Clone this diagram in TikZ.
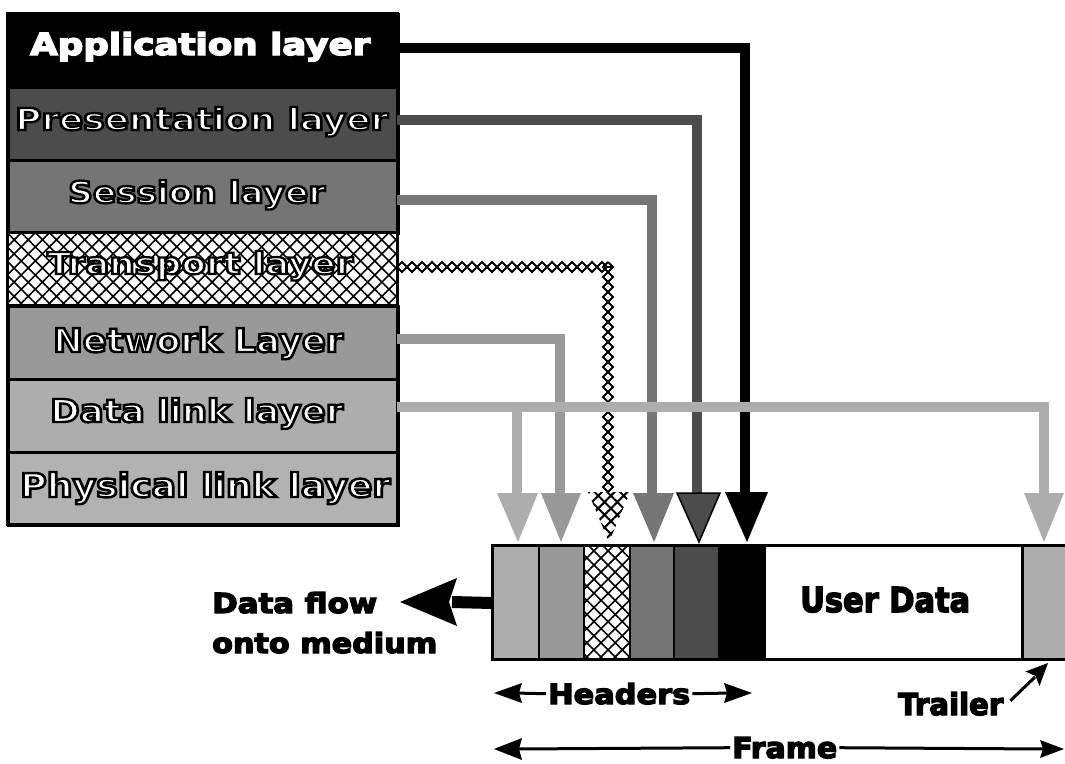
\documentclass[tikz,border=0pt]{standalone}
\usepackage{fontspec}
\setmainfont{DejaVu Sans}
\usetikzlibrary{patterns.meta,decorations.pathmorphing,calc}
\newcommand\oltxt[1]{\textcolor{white}{\special{pdf:literal direct 0 G 2 Tr 1.5 w}#1\special{pdf:literal direct 0 Tr}}}
\newcommand\hvtxt[1]{\special{pdf:literal direct 2 Tr 0.9 w}#1\special{pdf:literal direct 0 Tr}}
\newcommand\fitt[3]{\resizebox{#1pt}{#2pt}{\fontsize{20}{24}\selectfont\bfseries #3}}
\colorlet{cpres}{black!70}
\colorlet{csess}{black!54}
\colorlet{cnet}{black!40}
\colorlet{cdl}{black!32}
\colorlet{cphys}{black!30}
\tikzset{
  row/.style={draw=black,line width=3pt,minimum width=390pt,minimum height=73pt,inner sep=0pt,anchor=north west},
  lab/.style={inner sep=0pt,anchor=base west},
  hatchfill/.style={preaction={fill=white},pattern={Hatch[angle=45,distance=10pt,line width=1.6pt]},pattern color=black},
  conn/.style={line width=10pt,line cap=butt,line join=miter},
  zz/.style={decorate,decoration={zigzag,segment length=20pt,amplitude=5pt},line width=1.8pt,draw=black},
  zzm/.style={decorate,decoration={zigzag,segment length=20pt,amplitude=-5pt},line width=1.8pt,draw=black},
  cell/.style={draw=black,line width=2pt,minimum height=114pt,inner sep=0pt,anchor=north west},
  dimline/.style={line width=3pt}
}
\begin{document}
\begin{tikzpicture}[x=1pt,y=-1pt]
\useasboundingbox (0,0) rectangle (1065,763);
\fill[white] (0,0) rectangle (1065,763);
% layer stack
\node[row,fill=black] (app) at (7,13) {};
\node[row,fill=cpres] (pres) at (7,86) {};
\node[row,fill=csess] (sess) at (7,159) {};
\node[row,hatchfill] (trans) at (7,232) {};
\node[row,fill=cnet] (net) at (7,305) {};
\node[row,fill=cdl] (dl) at (7,378) {};
\node[row,fill=cphys] (phys) at (7,451) {};
\draw[line width=3pt] (7,13) rectangle (397,524);
% layer labels
\node[lab] (tapp) at (30,55) {\fitt{340}{23}{\textcolor{white}{\hvtxt{Application layer}}}};
\node[lab] (tpres) at (15,130) {\fitt{373}{23}{\oltxt{Presentation layer}}};
\node[lab] (tsess) at (68,203) {\fitt{257}{23}{\oltxt{Session layer}}};
\node[lab] (ttrans) at (47,274) {\fitt{306}{23}{\oltxt{Transport layer}}};
\node[lab] (tnet) at (53,352) {\fitt{290}{25}{\oltxt{Network Layer}}};
\node[lab] (tdl) at (50,422) {\fitt{293}{24}{\oltxt{Data link layer}}};
\node[lab] (tphys) at (20,497) {\fitt{370}{25}{\oltxt{Physical link layer}}};
% connector coordinates
\coordinate (a0) at (397,48);  \coordinate (a1) at (745,495);
\coordinate (p0) at (397,120); \coordinate (p1) at (697,495);
\coordinate (s0) at (397,200); \coordinate (s1) at (652,495);
\coordinate (t0) at (397,267); \coordinate (tc) at (613,267); \coordinate (tv) at (608,262); \coordinate (t1) at (608,493);
\coordinate (n0) at (397,339); \coordinate (n1) at (560,495);
\coordinate (d0) at (397,407); \coordinate (db) at (517,407); \coordinate (d1) at (517,495); \coordinate (d2) at (1044,495);
% connectors
\draw[conn,draw=black] (a0) -| (a1);
\draw[conn,draw=cpres] (p0) -| (p1);
\draw[conn,draw=csess] (s0) -| (s1);
\draw[zz] (t0) -- (tc); \draw[zzm] (t0) -- (tc);
\draw[zz] (tv) -- (t1); \draw[zzm] (tv) -- (t1);
\draw[conn,draw=cnet] (n0) -| (n1);
\draw[conn,draw=cdl] (d0) -| (d2);
\draw[conn,draw=cdl] (db) -- (d1);
% arrowheads
\fill[cdl] (497,493) -- (538,493) -- (518,542) -- cycle;
\fill[cnet] (541,493) -- (581,493) -- (561,542) -- cycle;
\path[hatchfill,pattern={Hatch[angle=45,distance=9pt,line width=2pt]}] (588,492) -- (630,492) -- (609,542) -- cycle;
\fill[csess] (633,493) -- (674,493) -- (654,542) -- cycle;
\fill[cpres] (677,493) -- (720,493) -- (699,542) -- cycle;
\draw[black,line width=1.5pt] (677,493) -- (720,493) -- (699,542) -- cycle;
\fill[black] (725,492) -- (768,492) -- (747,542) -- cycle;
\fill[cdl] (1024,493) -- (1064,493) -- (1044,542) -- cycle;
% frame
\node[cell,fill=cdl,minimum width=46pt] (c1) at (492,545) {};
\node[cell,fill=cnet,minimum width=45pt] (c2) at (538,545) {};
\node[cell,hatchfill,minimum width=46pt] (c3) at (583,545) {};
\node[cell,fill=csess,minimum width=44pt] (c4) at (629,545) {};
\node[cell,fill=cpres,minimum width=45pt] (c5) at (673,545) {};
\node[cell,fill=black,minimum width=46pt] (c6) at (718,545) {};
\node[cell,fill=white,minimum width=258pt] (ud) at (764,545) {};
\node[cell,fill=cdl,minimum width=50pt] (tr) at (1022,545) {};
\draw[line width=3pt] (492,545) rectangle (1075,659);
\draw[line width=3pt] (1022,545) -- (1022,659);
\node[lab] (tud) at (800,612) {\fitt{170}{25}{\hvtxt{User Data}}};
% data flow
\coordinate (df) at (452,602);
\draw[line width=12pt] (c1.west) -- (df);
\fill[black] (400,602) -- (457,578) -- (449,602) -- (457,626) -- cycle;
\node[lab] (tdf1) at (212,613) {\fitt{165}{21}{\hvtxt{Data flow}}};
\node[lab] (tdf2) at (212,653) {\fitt{225}{21}{\hvtxt{onto medium}}};
% headers
\node[lab] (thd) at (548,704) {\fitt{142}{21}{\hvtxt{Headers}}};
\coordinate (hl) at (494,693); \coordinate (hr) at (752,693);
\draw[dimline] ($(thd.west)+(-2,0)$) -- ($(hl)+(20,0)$);
\draw[dimline] ($(thd.east)+(2,0)$) -- ($(hr)+(-20,0)$);
\fill (hl) -- ++(28,-10) -- ++(-3,10) -- ++(3,10) -- cycle;
\fill (hr) -- ++(-28,-10) -- ++(3,10) -- ++(-3,10) -- cycle;
% frame dimension
\node[lab] (tfr) at (732,758) {\fitt{105}{21}{\hvtxt{Frame}}};
\coordinate (fl) at (494,749); \coordinate (fr) at (1064,749);
\draw[dimline] ($(tfr.west)+(-2,0)$) -- ($(fl)+(20,0)$);
\draw[dimline] ($(tfr.east)+(2,0)$) -- ($(fr)+(-18,0)$);
\fill (fl) -- ++(28,-11) -- ++(-3,11) -- ++(3,11) -- cycle;
\fill (fr) -- ++(-24,-9) -- ++(3,9) -- ++(-3,9) -- cycle;
% trailer
\node[lab] (ttr) at (898,715) {\fitt{105}{23}{\hvtxt{Trailer}}};
\coordinate (ttip) at (1048,663);
\draw[dimline] ($(ttr.east)+(7,-3)$) -- (1035,677);
\fill (ttip) -- (1039.5,686) -- (1035.5,676) -- (1025.5,671.5) -- cycle;
\end{tikzpicture}
\end{document}
